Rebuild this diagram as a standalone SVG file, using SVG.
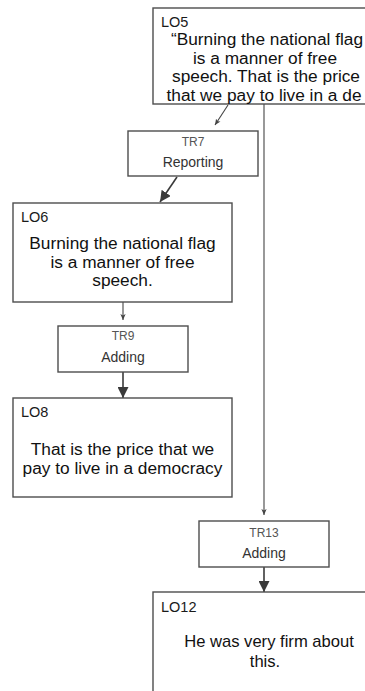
<svg xmlns="http://www.w3.org/2000/svg" width="365" height="691" viewBox="0 0 365 691">
  <style>
    .box { fill: #ffffff; stroke: #4d4d4d; stroke-width: 1.4; }
    .lo { font-family: "Liberation Sans", Arial, sans-serif; font-size: 14.5px; fill: #1a1a1a; }
    .body { font-family: "Liberation Sans", Arial, sans-serif; font-size: 17.3px; fill: #111111; text-anchor: middle; }
    .small { font-size: 16.6px; }
    .trid { font-family: "Liberation Sans", Arial, sans-serif; font-size: 12px; fill: #555555; text-anchor: middle; }
    .trname { font-family: "Liberation Sans", Arial, sans-serif; font-size: 14px; fill: #333333; text-anchor: middle; }
    .thin { stroke: #444444; stroke-width: 1.1; fill: none; }
    .thick { stroke: #3a3a3a; stroke-width: 1.6; fill: none; }
  </style>
  <defs>
    <marker id="headSmall" viewBox="0 0 8 8" refX="8" refY="4" markerWidth="6" markerHeight="6" markerUnits="userSpaceOnUse" orient="auto">
      <path d="M0,0.5 L8,4 L0,7.5 L2,4 z" fill="#444444"/>
    </marker>
    <marker id="headBig" viewBox="0 0 10 10" refX="10" refY="5" markerWidth="11" markerHeight="11" markerUnits="userSpaceOnUse" orient="auto">
      <path d="M0,0 L10,5 L0,10 z" fill="#3a3a3a"/>
    </marker>
  </defs>

  <!-- connectors -->
  <g id="connectors">
    <path class="thin" d="M228,105 L215,125" marker-end="url(#headSmall)"/>
    <path class="thick" d="M177,177 L160,202" marker-end="url(#headBig)"/>
    <path class="thin" d="M123,302 L123,320" marker-end="url(#headSmall)"/>
    <path class="thick" d="M123,372 L123,398" marker-end="url(#headBig)"/>
    <path class="thin" d="M264,104 L264,515" marker-end="url(#headSmall)"/>
    <path class="thick" d="M264,567 L264,592" marker-end="url(#headBig)"/>
  </g>

  <!-- LO5 -->
  <g id="LO5">
    <rect class="box" x="153" y="8" width="230" height="96"/>
    <text class="lo" x="161" y="27">LO5</text>
    <text class="body" x="267" y="45">“Burning the national flag</text>
    <text class="body" x="265" y="63.5">is a manner of free</text>
    <text class="body" x="266" y="82">speech. That is the price</text>
    <text class="body" x="264" y="100.5">that we pay to live in a de</text>
  </g>

  <!-- TR7 -->
  <g id="TR7">
    <rect class="box" x="128" y="131" width="130" height="45"/>
    <text class="trid" x="193" y="146">TR7</text>
    <text class="trname" x="193" y="167">Reporting</text>
  </g>

  <!-- LO6 -->
  <g id="LO6">
    <rect class="box" x="13" y="203" width="219" height="99"/>
    <text class="lo" x="21" y="222">LO6</text>
    <text class="body" x="122.5" y="249">Burning the national flag</text>
    <text class="body" x="122.5" y="267.5">is a manner of free</text>
    <text class="body" x="122.5" y="286">speech.</text>
  </g>

  <!-- TR9 -->
  <g id="TR9">
    <rect class="box" x="58" y="326" width="130" height="46"/>
    <text class="trid" x="123" y="340">TR9</text>
    <text class="trname" x="123" y="362">Adding</text>
  </g>

  <!-- LO8 -->
  <g id="LO8">
    <rect class="box" x="13" y="398" width="219" height="99"/>
    <text class="lo" x="21" y="417">LO8</text>
    <text class="body" x="122.5" y="455">That is the price that we</text>
    <text class="body" x="122.5" y="474">pay to live in a democracy</text>
  </g>

  <!-- TR13 -->
  <g id="TR13">
    <rect class="box" x="199" y="521" width="130" height="46"/>
    <text class="trid" x="264" y="537">TR13</text>
    <text class="trname" x="264" y="558">Adding</text>
  </g>

  <!-- LO12 -->
  <g id="LO12">
    <rect class="box" x="153" y="592" width="230" height="120"/>
    <text class="lo" x="161" y="612">LO12</text>
    <text class="body small" x="269" y="646.5">He was very firm about</text>
    <text class="body small" x="265" y="667">this.</text>
  </g>
</svg>
